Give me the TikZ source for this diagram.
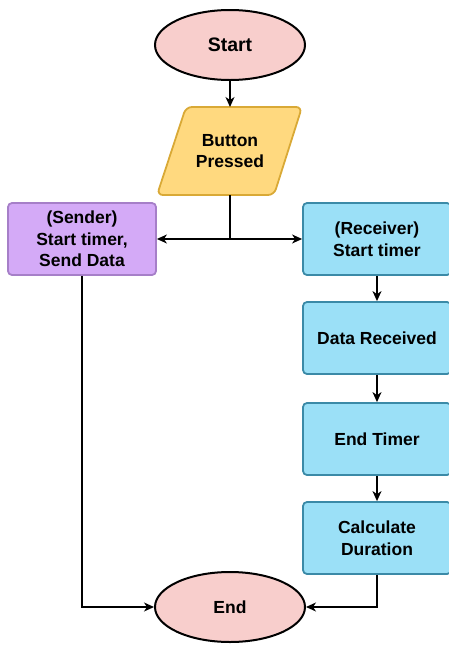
\documentclass[tikz,border=0pt]{standalone}
\usepackage{fontspec}
\setmainfont{Liberation Sans}
\usetikzlibrary{shapes.geometric,arrows.meta}

\definecolor{termfill}{HTML}{F8CECC}
\definecolor{inputfill}{HTML}{FFD97F}
\definecolor{inputline}{HTML}{D9A936}
\definecolor{sendfill}{HTML}{D4AAF7}
\definecolor{sendline}{HTML}{A67FC8}
\definecolor{recvfill}{HTML}{9BE0F7}
\definecolor{recvline}{HTML}{3B8AA7}

\tikzset{
  terminal/.style={ellipse, draw=black, fill=termfill, line width=2pt,
    minimum width=150pt, minimum height=70pt, inner sep=0pt,
    font=\fontsize{17.5}{20}\selectfont\bfseries},
  inputbox/.style={draw=inputline, fill=inputfill, line width=1.8pt,
    rounded corners=6pt},
  label/.style={align=center, inner sep=0pt,
    font=\fontsize{17.5}{21.5}\selectfont\bfseries},
  procbox/.style={rectangle, rounded corners=4pt, line width=1.8pt,
    minimum width=148pt, minimum height=72pt, inner sep=0pt, align=center,
    font=\fontsize{17.5}{21.5}\selectfont\bfseries},
  sendbox/.style={procbox, draw=sendline, fill=sendfill},
  recvbox/.style={procbox, draw=recvline, fill=recvfill},
  flow/.style={line width=1.3pt, -{Stealth[length=10pt,width=9pt,inset=3pt]}}
}

\begin{document}
\begin{tikzpicture}[x=1pt,y=-1pt]

\useasboundingbox (0,0) rectangle (449,646);

% start and input
\node[terminal] (start) at (230,45) {\fontsize{19.5}{22}\selectfont Start};
\draw[inputbox] (186,107) -- (302,107) -- (274,195) -- (157,195) -- cycle;
\node[label] (button) at (230,151) {Button\\Pressed};
\coordinate (buttontop) at (230,107);
\coordinate (buttonbase) at (230,195);

% both sides start timing
\node[sendbox] (sender) at (82,239) {(Sender)\\Start timer,\\Send Data};
\node[recvbox] (receiver) at (377,239) {(Receiver)\\Start timer};

% receiver side
\node[recvbox] (received) at (377,338) {Data Received};
\node[recvbox] (endtimer) at (377,439) {End Timer};
\node[recvbox] (calc) at (377,538) {Calculate\\Duration};

\node[terminal] (end) at (230,607) {End};

\coordinate (split) at (buttonbase |- sender.east);

\draw[flow] (start) -- (buttontop);
\draw[line width=1.3pt] (buttonbase) -- (split);
\draw[flow] (split) -- (sender);
\draw[flow] (split) -- (receiver);
\draw[flow] (receiver) -- (received);
\draw[flow] (received) -- (endtimer);
\draw[flow] (endtimer) -- (calc);

% back to the end
\draw[flow] (sender.south) |- (end.west);
\draw[flow] (calc.south) |- (end.east);

\end{tikzpicture}
\end{document}
